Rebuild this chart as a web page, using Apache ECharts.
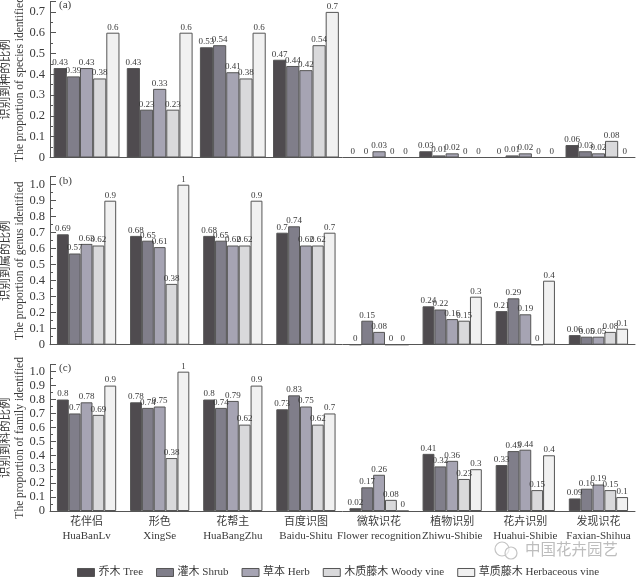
<!DOCTYPE html>
<html>
<head>
<meta charset="utf-8">
<title>识别比例</title>
<script src="https://cdn.jsdelivr.net/npm/echarts@6/dist/echarts.min.js"></script>
<style>
html,body{margin:0;padding:0;background:#fff;}
#main{width:640px;height:577px;}
</style>
</head>
<body>
<div id="main"></div>
<script>
var categories = ['花伴侣\nHuaBanLv','形色\nXingSe','花帮主\nHuaBangZhu','百度识图\nBaidu-Shitu','微软识花\nFlower recognition','植物识别\nZhiwu-Shibie','花卉识别\nHuahui-Shibie','发现识花\nFaxian-Shihua'];
var seriesNames = ['乔木 Tree','灌木 Shrub','草本 Herb','木质藤木 Woody vine','草质藤木 Herbaceous vine'];
var colors = ['#4f4b4f','#807e8a','#a6a4b3','#d9d9db','#f1f1f1'];

var speciesTree = [0.43,0.43,0.53,0.47,0,0.03,0,0.06];
var speciesShrub = [0.39,0.23,0.54,0.44,0,0.01,0.01,0.03];
var speciesHerb = [0.43,0.33,0.41,0.42,0.03,0.02,0.02,0.02];
var speciesWoody = [0.38,0.23,0.38,0.54,0,0,0,0.08];
var speciesVine = [0.6,0.6,0.6,0.7,0,0,0,0];

var genusTree = [0.69,0.68,0.68,0.7,0,0.24,0.21,0.06];
var genusShrub = [0.57,0.65,0.65,0.74,0.15,0.22,0.29,0.05];
var genusHerb = [0.63,0.61,0.62,0.62,0.08,0.16,0.19,0.05];
var genusWoody = [0.62,0.38,0.62,0.62,0,0.15,0,0.08];
var genusVine = [0.9,1,0.9,0.7,0,0.3,0.4,0.1];

var familyTree = [0.8,0.78,0.8,0.73,0.02,0.41,0.33,0.09];
var familyShrub = [0.7,0.74,0.74,0.83,0.17,0.32,0.43,0.16];
var familyHerb = [0.78,0.75,0.79,0.75,0.26,0.36,0.44,0.19];
var familyWoody = [0.69,0.38,0.62,0.62,0.08,0.23,0.15,0.15];
var familyVine = [0.9,1,0.9,0.7,0,0.3,0.4,0.1];

var font = '"Liberation Serif","Noto Sans CJK SC",serif';
var textColor = '#3a3a3a';
var lineColor = '#555';

var panels = [
  {tag:'(a)', tagTop:0, name:'识别到种的比例\nThe proportion of species identified', top:1.5, height:156, max:0.75, gap:'10%',
   data:[speciesTree,speciesShrub,speciesHerb,speciesWoody,speciesVine]},
  {tag:'(b)', tagTop:176, name:'识别到属的比例\nThe proportion of genus identified', top:176.7, height:168, max:1.05, gap:'19%',
   data:[genusTree,genusShrub,genusHerb,genusWoody,genusVine]},
  {tag:'(c)', tagTop:363, name:'识别到科的比例\nThe proportion of family identified', top:364.7, height:146.3, max:1.05, gap:'19%',
   data:[familyTree,familyShrub,familyHerb,familyWoody,familyVine]}
];

var grids = [], xAxes = [], yAxes = [], series = [], graphics = [];

panels.forEach(function (p, i) {
  grids.push({left:50, width:585, top:p.top, height:p.height, outerBoundsMode:'none'});
  xAxes.push({
    type:'category', gridIndex:i, data:categories,
    axisLine:{lineStyle:{color:lineColor,width:1}},
    axisTick:{show:false},
    axisLabel:{show:i==2, interval:0, hideOverlap:false, fontFamily:font, fontSize:11, lineHeight:14, color:textColor, margin:4}
  });
  yAxes.push({
    type:'value', gridIndex:i, min:0, max:p.max, interval:0.1,
    name:p.name, nameLocation:'middle', nameGap:23, nameRotate:90, nameMoveOverlap:false,
    nameTextStyle:{fontFamily:font, fontSize:11.5, lineHeight:14, color:textColor},
    splitLine:{show:false},
    axisLine:{show:true, lineStyle:{color:lineColor,width:1}},
    axisTick:{show:true, inside:true, length:6, lineStyle:{color:lineColor}},
    minorTick:{show:true, splitNumber:2, length:3, lineStyle:{color:lineColor}},
    axisLabel:{
      fontFamily:font, fontSize:12.5, color:textColor, margin:5, showMaxLabel:false,
      formatter:function (v) { return v == 0 ? '0' : v.toFixed(1); }
    }
  });
  p.data.forEach(function (values, s) {
    series.push({
      type:'bar', name:seriesNames[s], xAxisIndex:i, yAxisIndex:i, data:values,
      barGap:0, barCategoryGap:p.gap,
      itemStyle:{color:colors[s], borderColor:'#555', borderWidth:1},
      label:{show:true, position:'top', distance:1, fontFamily:font, fontSize:9, color:textColor}
    });
  });
  graphics.push({
    type:'text', left:59, top:p.tagTop,
    style:{text:p.tag, font:'11px '+font, fill:textColor}
  });
});

// watermark
graphics.push({type:'circle', shape:{cx:502,cy:549,r:7}, style:{fill:'none',stroke:'#c4c4c4',lineWidth:1.2}});
graphics.push({type:'circle', shape:{cx:511,cy:553,r:6}, style:{fill:'rgba(255,255,255,0.6)',stroke:'#c4c4c4',lineWidth:1.2}});
graphics.push({type:'text', left:525, top:541, style:{text:'中国花卉园艺', font:'15.5px "Noto Sans CJK SC"', fill:'#bdbdbd'}});

var chart = echarts.init(document.getElementById('main'));
chart.setOption({
  animation:false,
  backgroundColor:'#fff',
  grid:grids, xAxis:xAxes, yAxis:yAxes, series:series, graphic:graphics,
  legend:{
    left:77, top:567, padding:0, itemWidth:17, itemHeight:8, itemGap:13, selectedMode:false,
    data:seriesNames.map(function (n) { return {name:n, icon:'rect'}; }),
    itemStyle:{borderColor:'#555', borderWidth:1},
    textStyle:{fontFamily:font, fontSize:11, color:textColor, padding:[0,0,0,-1]}
  }
});
</script>
</body>
</html>
